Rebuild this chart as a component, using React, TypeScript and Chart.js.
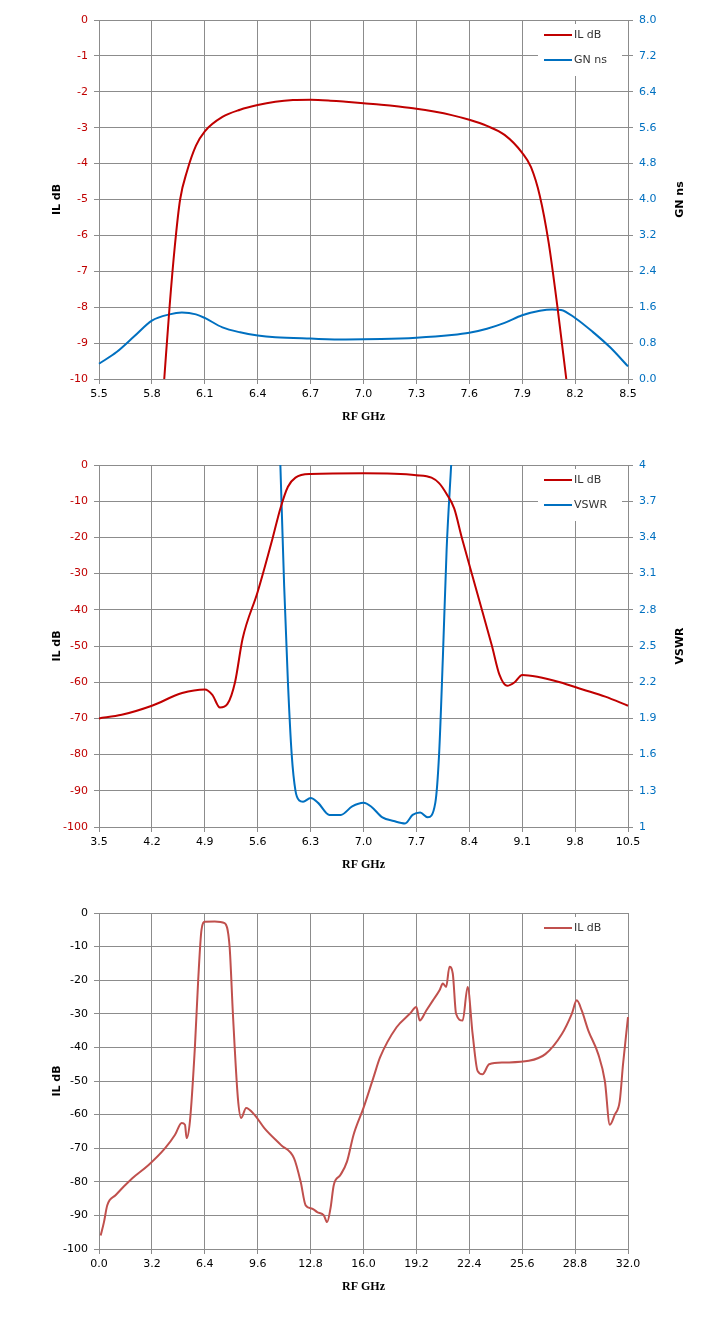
import React, { useEffect, useRef } from "react";
import { Chart, registerables } from "chart.js";
Chart.register(...registerables);

const RED = "#c00000";
const BLUE = "#0070c0";
const RED3 = "#c0504d";

// Chart 1
const c1Freq = [5.87, 5.9, 5.93, 5.96, 6.0, 6.05, 6.1, 6.2, 6.3, 6.4, 6.5, 6.6, 6.7, 6.8, 6.9, 7.0, 7.1, 7.2, 7.3, 7.4, 7.5, 7.6, 7.7, 7.8, 7.9, 7.95, 8.0, 8.05, 8.1, 8.15];
const c1IL = [-10, -8, -6.3, -5, -4.2, -3.5, -3.1, -2.7, -2.5, -2.37, -2.28, -2.23, -2.22, -2.24, -2.28, -2.32, -2.36, -2.41, -2.47, -2.55, -2.65, -2.78, -2.95, -3.2, -3.7, -4.1, -4.9, -6.2, -8.0, -10];
const c1GNFreq = [5.5, 5.6, 5.7, 5.8, 5.9, 5.97, 6.05, 6.1, 6.2, 6.3, 6.4, 6.5, 6.7, 6.9, 7.1, 7.3, 7.5, 7.6, 7.7, 7.8, 7.9, 8.0, 8.07, 8.12, 8.2, 8.3, 8.4, 8.5];
const c1GN = [0.34, 0.6, 0.95, 1.3, 1.44, 1.48, 1.44, 1.36, 1.15, 1.04, 0.97, 0.93, 0.9, 0.88, 0.89, 0.92, 0.98, 1.03, 1.12, 1.25, 1.42, 1.52, 1.55, 1.54, 1.36, 1.05, 0.7, 0.28];

// Chart 2
const c2Freq = [3.5, 3.8, 4.2, 4.6, 4.9, 5.0, 5.1, 5.2, 5.3, 5.4, 5.6, 5.8, 5.9, 6.0, 6.1, 6.3, 7.0, 7.7, 7.9, 8.0, 8.1, 8.2, 8.3, 8.5, 8.7, 8.8, 8.9, 9.0, 9.1, 9.3, 9.6, 9.9, 10.2, 10.5];
const c2IL = [-70, -69, -66.5, -63, -62, -63.5, -67, -66, -60, -48, -35, -20, -12, -6, -3.5, -2.5, -2.3, -2.8, -3.5, -5, -8, -12, -20, -35, -50, -58, -61, -60, -58, -58.5, -60, -62, -64, -66.5];
const c2VFreq = [5.9, 5.95, 6.0, 6.05, 6.1, 6.15, 6.2, 6.3, 6.4, 6.55, 6.7, 6.85, 7.0, 7.1, 7.25, 7.4, 7.55, 7.65, 7.75, 7.85, 7.95, 8.0, 8.05, 8.1, 8.16];
const c2VSWR = [4.0, 3.0, 2.2, 1.6, 1.3, 1.22, 1.21, 1.24, 1.2, 1.1, 1.1, 1.17, 1.2, 1.17, 1.08, 1.05, 1.03, 1.1, 1.12, 1.08, 1.2, 1.6, 2.4, 3.3, 4.0];

// Chart 3
const c3Freq = [0.1, 0.3, 0.5, 1, 2, 3, 4, 4.6, 5.0, 5.2, 5.3, 5.5, 5.8, 6.0, 6.2, 6.4, 7, 7.6, 7.9, 8.1, 8.4, 8.6, 8.9, 9.4, 10, 11, 11.8, 12.2, 12.5, 12.9, 13.2, 13.6, 13.8, 14.0, 14.2, 14.6, 15, 15.4, 16, 16.6, 17, 18, 18.8, 19.2, 19.4, 19.8, 20.2, 20.6, 20.8, 21.0, 21.2, 21.4, 21.6, 22, 22.3, 22.6, 22.9, 23.2, 23.6, 24.5, 26, 27, 28, 28.6, 28.9, 29.2, 29.6, 30.2, 30.6, 30.9, 31.2, 31.5, 31.7, 32];
const c3IL = [-96, -92, -87, -84, -79, -75, -70, -66, -62.5, -63, -67, -62, -40, -20, -5, -2.6, -2.5, -3, -10, -30, -55, -61, -58, -60, -64, -69, -73, -80, -87, -88, -89, -90, -92, -88, -81, -78, -74, -66, -58, -49, -43, -34, -30, -28, -32, -29, -26, -23, -21, -22, -16, -18, -30, -32, -22, -36, -47, -48, -45, -44.5, -44, -42, -36, -30, -26, -29, -35, -42, -50, -63, -60, -56, -45, -31];

const pts = (xs: number[], ys: number[]) => xs.map((x, i) => ({ x, y: ys[i] }));

const TICK_FONT = { family: "DejaVu Sans", size: 11 };

type Spec = {
  top: number; height: number;
  xMin: number; xMax: number; xStep: number; xDec: number;
  yMin: number; yMax: number; yStep: number;
  y2?: { min: number; max: number; step: number; dec: number; title: string };
  datasets: any[];
  legend: { label: string; color: string }[];
  plotTop: number; plotBottom: number;
};

const specs: Spec[] = [
  {
    top: 0, height: 440, xMin: 5.5, xMax: 8.5, xStep: 0.3, xDec: 1, yMin: -10, yMax: 0, yStep: 1,
    y2: { min: 0, max: 8, step: 0.8, dec: 1, title: "GN ns" },
    datasets: [
      { label: "IL dB", data: pts(c1Freq, c1IL), borderColor: RED, yAxisID: "y" },
      { label: "GN ns", data: pts(c1GNFreq, c1GN), borderColor: BLUE, yAxisID: "y2" },
    ],
    legend: [{ label: "IL dB", color: RED }, { label: "GN ns", color: BLUE }],
    plotTop: 20, plotBottom: 379,
  },
  {
    top: 445, height: 440, xMin: 3.5, xMax: 10.5, xStep: 0.7, xDec: 1, yMin: -100, yMax: 0, yStep: 10,
    y2: { min: 1, max: 4, step: 0.3, dec: -1, title: "VSWR" },
    datasets: [
      { label: "IL dB", data: pts(c2Freq, c2IL), borderColor: RED, yAxisID: "y" },
      { label: "VSWR", data: pts(c2VFreq, c2VSWR), borderColor: BLUE, yAxisID: "y2" },
    ],
    legend: [{ label: "IL dB", color: RED }, { label: "VSWR", color: BLUE }],
    plotTop: 20, plotBottom: 382,
  },
  {
    top: 890, height: 442, xMin: 0, xMax: 32, xStep: 3.2, xDec: 1, yMin: -100, yMax: 0, yStep: 10,
    datasets: [{ label: "IL dB", data: pts(c3Freq, c3IL), borderColor: RED3, yAxisID: "y" }],
    legend: [{ label: "IL dB", color: RED3 }],
    plotTop: 23, plotBottom: 359,
  },
];

function ChartBox({ s }: { s: Spec }) {
  const ref = useRef<HTMLCanvasElement>(null);
  useEffect(() => {
    const titles = {
      id: "titles",
      afterDraw(chart: any) {
        const { ctx, chartArea: a } = chart;
        ctx.save();
        ctx.fillStyle = "#000";
        ctx.font = "bold 12px 'Liberation Serif'";
        ctx.textAlign = "center";
        ctx.textBaseline = "middle";
        ctx.fillText("RF GHz", (a.left + a.right) / 2, a.bottom + 38);
        ctx.font = "bold 11px 'DejaVu Sans'";
        const vt = (t: string, x: number) => {
          ctx.save();
          ctx.translate(x, (a.top + a.bottom) / 2);
          ctx.rotate(-Math.PI / 2);
          ctx.fillText(t, 0, 0);
          ctx.restore();
        };
        vt("IL dB", 57);
        if (s.y2) vt(s.y2.title, a.right + 52);
        // legend
        const lx = a.right - 90, ly = a.top + 4;
        ctx.fillStyle = "#fff";
        ctx.fillRect(lx, ly, 84, s.legend.length * 25 + 2);
        ctx.textAlign = "left";
        ctx.font = "11px 'DejaVu Sans'";
        s.legend.forEach((l, i) => {
          const y = ly + 11 + i * 25;
          ctx.strokeStyle = l.color;
          ctx.lineWidth = 2;
          ctx.beginPath();
          ctx.moveTo(lx + 6, y);
          ctx.lineTo(lx + 34, y);
          ctx.stroke();
          ctx.fillStyle = "#333";
          ctx.fillText(l.label, lx + 36, y);
        });
        ctx.restore();
      },
    };
    const scales: any = {
      x: {
        type: "linear", min: s.xMin, max: s.xMax,
        afterBuildTicks: (sc: any) => {
          const t = [];
          for (let i = 0; i <= 10; i++) t.push({ value: s.xMin + i * s.xStep });
          sc.ticks = t;
        },
        afterFit: (sc: any) => { sc.height = s.height - s.plotBottom; },
        ticks: { color: "#000", font: TICK_FONT, maxRotation: 0, padding: 4, callback: (v: number) => v.toFixed(s.xDec) },
        grid: { color: "#8c8c8c", tickLength: 5, drawTicks: true },
        border: { color: "#8c8c8c" },
      },
      y: {
        type: "linear", min: s.yMin, max: s.yMax,
        afterBuildTicks: (sc: any) => {
          const t = [];
          for (let v = s.yMin; v <= s.yMax + 1e-9; v += s.yStep) t.push({ value: v });
          sc.ticks = t;
        },
        afterFit: (sc: any) => { sc.width = 99; },
        ticks: { color: s.y2 ? RED : "#000", font: TICK_FONT, padding: 6, callback: (v: number) => String(Math.round(v)) },
        grid: { color: "#8c8c8c", tickLength: 5 },
        border: { color: "#8c8c8c" },
      },
    };
    if (s.y2) {
      const y2 = s.y2;
      scales.y2 = {
        type: "linear", position: "right", min: y2.min, max: y2.max,
        afterBuildTicks: (sc: any) => {
          const t = [];
          for (let i = 0; i <= 10; i++) t.push({ value: y2.min + i * y2.step });
          sc.ticks = t;
        },
        afterFit: (sc: any) => { sc.width = 718 - 628; },
        ticks: {
          color: BLUE, font: TICK_FONT, padding: 6,
          callback: (v: number) => {
            const r = Math.round(v * 10) / 10;
            return y2.dec > 0 ? r.toFixed(1) : String(r);
          },
        },
        grid: { drawOnChartArea: false, color: "#8c8c8c", tickLength: 5 },
        border: { color: "#8c8c8c" },
      };
    } else {
      scales.yR = {
        type: "linear", position: "right", min: 0, max: 1, display: true,
        afterFit: (sc: any) => { sc.width = 718 - 628; },
        ticks: { display: false },
        grid: { display: false },
        border: { color: "#8c8c8c" },
      };
    }
    const chart = new Chart(ref.current!, {
      type: "line",
      data: {
        datasets: s.datasets.map((d) => ({
          ...d, borderWidth: 2, pointRadius: 0, tension: 0.4, cubicInterpolationMode: "monotone", fill: false, clip: 2,
        })),
      },
      options: {
        animation: false, responsive: false, devicePixelRatio: 1,
        layout: { padding: { top: s.plotTop, left: 0, right: 0, bottom: 0 } },
        plugins: { legend: { display: false }, tooltip: { enabled: false } },
        scales,
      },
      plugins: [titles],
    } as any);
    return () => chart.destroy();
  }, []);
  return (
    <canvas ref={ref} width={718} height={s.height}
      style={{ position: "absolute", left: 0, top: s.top, width: 718, height: s.height }} />
  );
}

export default function App() {
  return (
    <div style={{ position: "absolute", left: 0, top: 0, width: 718, height: 1332, background: "#fff" }}>
      {specs.map((s, i) => <ChartBox key={i} s={s} />)}
    </div>
  );
}
